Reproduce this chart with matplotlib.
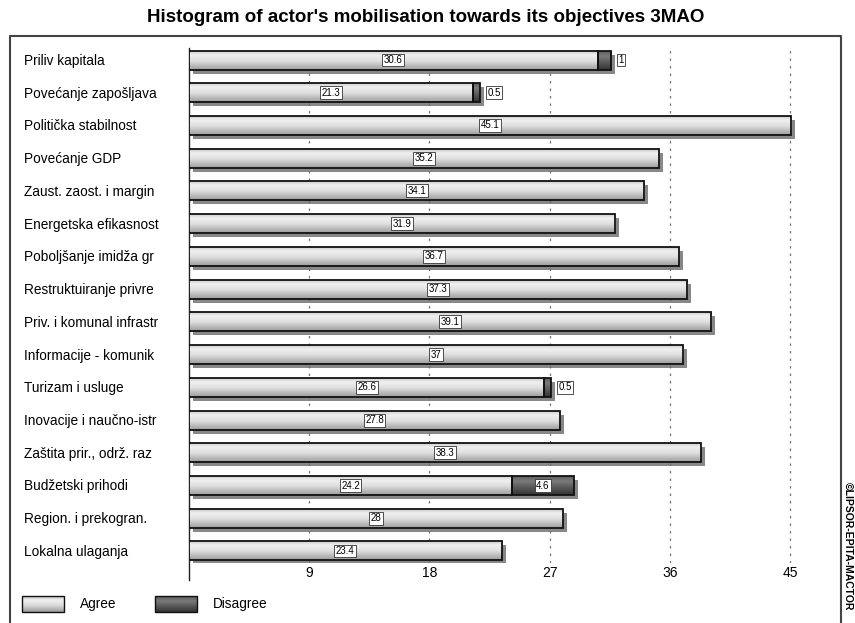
import numpy as np
import matplotlib
matplotlib.use("Agg")
import matplotlib.pyplot as plt
from matplotlib.patches import Rectangle
from matplotlib.colors import LinearSegmentedColormap

plt.rcParams['font.family'] = ['Liberation Sans', 'DejaVu Sans']

objectives = ["Priliv kapitala", "Povećanje zapošljava", "Politička stabilnost",
              "Povećanje GDP", "Zaust. zaost. i margin", "Energetska efikasnost",
              "Poboljšanje imidža gr", "Restruktuiranje privre", "Priv. i komunal infrastr",
              "Informacije - komunik", "Turizam i usluge", "Inovacije i naučno-istr",
              "Zaštita prir., održ. raz", "Budžetski prihodi", "Region. i prekogran.",
              "Lokalna ulaganja"]
agree = [30.6, 21.3, 45.1, 35.2, 34.1, 31.9, 36.7, 37.3, 39.1, 37.0,
         26.6, 27.8, 38.3, 24.2, 28.0, 23.4]
disagree = [1, 0.5, 0, 0, 0, 0, 0, 0, 0, 0, 0.5, 0, 0, 4.6, 0, 0]
ticks = [9, 18, 27, 36, 45]

W, H = 855, 623
fig = plt.figure(figsize=(W / 100, H / 100), dpi=100)

# overlay in pixel coords for frame, legend, copyright
ov = fig.add_axes([0, 0, 1, 1])
ov.set_xlim(0, W)
ov.set_ylim(H, 0)
ov.axis('off')

# main axes: x=0 at px 189, 13.356 px per unit
px_per = 13.356
ax_l, ax_r, ax_t, ax_b = 189, 800, 48, 563
ax = fig.add_axes([ax_l / W, 1 - ax_b / H, (ax_r - ax_l) / W, (ax_b - ax_t) / H])
row_px = 32.73
ax.set_xlim(0, (ax_r - ax_l) / px_per)
ax.set_ylim(15 + (ax_b - 551) / row_px, -(60 - ax_t) / row_px)

light = LinearSegmentedColormap.from_list("light", [(0, "#c4c4c4"), (0.25, "#f0f0f0"), (0.55, "#dedede"), (1, "#9c9c9c")])
dark = LinearSegmentedColormap.from_list("dark", [(0, "#5a5a5a"), (0.3, "#7a7a7a"), (1, "#333333")])
grad = np.linspace(0, 1, 64).reshape(-1, 1)

bh = 19 / row_px
sx, sy = 4 / px_per, 4 / row_px


def draw_seg(x0, w, y, cmap):
    ax.add_patch(Rectangle((x0 + sx, y - bh / 2 + sy), w, bh, facecolor="#6a6a6a",
                           edgecolor="none", alpha=0.8, zorder=2))
    im = ax.imshow(grad, extent=[x0, x0 + w, y + bh / 2, y - bh / 2], aspect='auto',
                   cmap=cmap, zorder=3, interpolation='bilinear')
    r = Rectangle((x0, y - bh / 2), w, bh, facecolor="none", edgecolor="#111111",
                  linewidth=1.3, zorder=4)
    ax.add_patch(r)
    im.set_clip_path(r)


box = dict(boxstyle="square,pad=0.15", facecolor="white", edgecolor="#333333", linewidth=0.6)
for i, (a, d) in enumerate(zip(agree, disagree)):
    draw_seg(0, a, i, light)
    if d > 0:
        draw_seg(a, d, i, dark)
    ax.text(a / 2, i, f"{a:g}", ha='center', va='center', fontsize=7, bbox=box, zorder=6)
    if d > 0:
        if d < 2:
            ax.text(a + d + 0.55, i, f"{d:g}", ha='left', va='center', fontsize=7, bbox=box, zorder=6)
        else:
            ax.text(a + d / 2, i, f"{d:g}", ha='center', va='center', fontsize=7, bbox=box, zorder=6)

ax.set_xticks(ticks)
ax.set_xticklabels([str(t) for t in ticks], fontsize=10)
ax.tick_params(axis='x', length=0, pad=2)
ax.set_yticks([])
ax.grid(axis='x', color='#777777', linestyle=(0, (2, 4)), linewidth=0.9, zorder=1)
ax.set_axisbelow(True)
for s in ax.spines.values():
    s.set_visible(False)
ax.patch.set_alpha(0)

# category labels
for i, name in enumerate(objectives):
    ov.text(24, 61 + i * row_px, name, ha='left', va='center', fontsize=9.8)

# left axis line
ov.plot([189, 189], [48, 580], color='#222222', linewidth=1)

# frame
ov.plot([10, 10, 841, 841], [H + 5, 36, 36, H + 5], color='#444444', linewidth=1.5)

# title
ov.text(426, 18, "Histogram of actor's mobilisation towards its objectives 3MAO",
        ha='center', va='center', fontsize=13.5, fontweight='bold')

# legend
for x0, lab, cmap in [(22, "Agree", light), (155, "Disagree", dark)]:
    ov.imshow(grad, extent=[x0, x0 + 42, 612, 596], aspect='auto', cmap=cmap, zorder=3)
    ov.add_patch(Rectangle((x0, 596), 42, 16, facecolor='none', edgecolor='#111111', linewidth=1, zorder=4))
    ov.text(x0 + 58, 604, lab, ha='left', va='center', fontsize=9.8)
ov.set_xlim(0, W)
ov.set_ylim(H, 0)

# copyright
ov.text(848, 482, "©LIPSOR-EPITA-MACTOR", rotation=-90, ha='center', va='top',
        fontsize=7.5, fontweight='bold')

fig.savefig("out.png", dpi=100)
